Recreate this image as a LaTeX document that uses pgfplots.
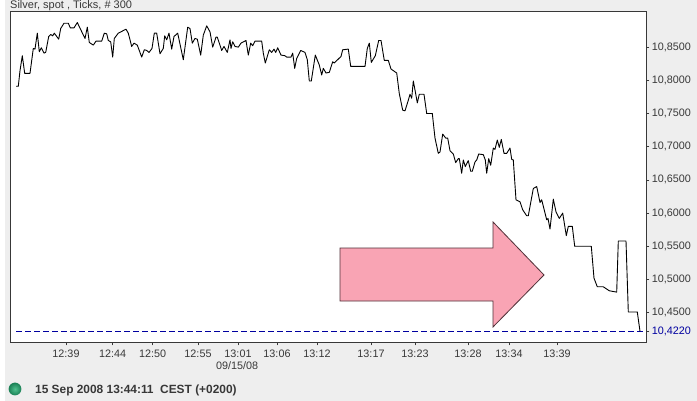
\documentclass[border=0pt]{standalone}
\usepackage{fontspec}
\setmainfont{Liberation Sans}
\usepackage{pgfplots}
\pgfplotsset{compat=1.18}

\definecolor{panel}{HTML}{EEEEEE}
\definecolor{frame}{HTML}{383838}
\definecolor{lastblue}{HTML}{0000A0}
\definecolor{arrowpink}{HTML}{F9A4B4}
\definecolor{arrowedge}{HTML}{503038}
\definecolor{ledin}{HTML}{4FC08E}
\definecolor{ledout}{HTML}{1A8055}

% x is the horizontal position on the time scale, y the price
\begin{document}
\begin{tikzpicture}[x=1pt,y=1pt]
  \fill[panel] (-10.3,-58.7) rectangle (686.7,342.3);
  \fill[white] (-10.3,-58.7) rectangle (-5,342.3);
  \path[use as bounding box] (-10.3,-58.7) rectangle (686.7,342.3);
  \begin{axis}[
    at={(0,0)}, anchor=south west,
    scale only axis,
    width=636pt, height=331.3pt,
    xmin=10.3, xmax=646.3,
    ymin=10.4054, ymax=10.9044,
    axis background/.style={fill=white},
    axis line style={frame, line width=0.9pt},
    tick style={frame, line width=0.6pt},
    tick align=outside,
    major tick length=3pt,
    xtick pos=bottom,
    ytick pos=right,
    yticklabel pos=right,
    xtick={66,112.7,152.7,198,238,277,317,371,415,468,509,557},
    xticklabels={12:39,12:44,12:50,12:55,13:01,13:06,13:12,13:17,13:23,13:28,13:34,13:39},
    ytick={10.45,10.5,10.55,10.6,10.65,10.7,10.75,10.8,10.85},
    extra y ticks={10.422},
    extra y tick style={yticklabel style={text=lastblue}},
    /pgf/number format/assume math mode=true,
    /pgf/number format/fixed,
    /pgf/number format/fixed zerofill,
    /pgf/number format/precision=4,
    /pgf/number format/use comma,
    /pgf/number format/1000 sep={},
    tick label style={font=\fontsize{10.8}{12}\selectfont, text=frame},
    xticklabel style={yshift=-1pt},
    yticklabel style={xshift=-1pt},
    clip=false,
  ]
  % arrow
  \addplot[draw=arrowedge, fill=arrowpink, line width=0.8pt] coordinates {
    (340,10.5474) (493,10.5474) (493,10.5866) (544,10.5068) (493,10.4285) (493,10.4676) (340,10.4676)
  } -- cycle;
  % last price
  \addplot[lastblue, line width=0.9pt, dash pattern=on 6pt off 3pt] coordinates {(16,10.422) (644,10.422)};
  % price
  \addplot[black, line width=0.9pt, line join=round] coordinates {
    (16.0,10.791) (18.3,10.791) (20,10.8145) (22.3,10.837) (24.7,10.8105) (30,10.8105) (33.3,10.848) (35,10.847)
    (37.3,10.871) (39.3,10.843) (41.3,10.849) (44,10.841) (45.7,10.842) (48.7,10.866) (50.7,10.869) (52.7,10.867)
    (54.3,10.871) (58.7,10.862) (60.7,10.878) (64,10.886) (68.3,10.886) (70.3,10.879) (74,10.879) (77.3,10.887)
    (85,10.863) (87.3,10.880) (89.3,10.857) (93.3,10.853) (96,10.859) (101.7,10.859) (104.3,10.871) (106.7,10.870)
    (108.3,10.860) (110.7,10.858) (112.7,10.835) (114.3,10.863) (118.3,10.871) (126,10.877) (128.3,10.871)
    (131.7,10.851) (134,10.856) (137.3,10.853) (141.7,10.835) (144.3,10.846) (146.7,10.845) (149,10.842) (152,10.848)
    (154.3,10.871) (156.7,10.871) (160,10.840) (163.3,10.848) (164.7,10.867) (166.7,10.861) (169,10.871) (171.7,10.847)
    (174,10.866) (177.7,10.871) (183.3,10.831) (187.7,10.880) (190,10.878) (192.3,10.856) (195,10.863) (197.3,10.862)
    (200.7,10.838) (203.3,10.868) (206.7,10.882) (210,10.873) (212.7,10.850) (216,10.865) (217.3,10.865) (221.7,10.845)
    (224,10.851) (227.3,10.842) (230,10.861) (231,10.848) (232.7,10.858) (235,10.851) (238.3,10.850) (241,10.856)
    (246,10.860) (248.3,10.838) (250.7,10.856) (252.7,10.852) (255,10.859) (261.7,10.859) (263.3,10.841) (265.3,10.826)
    (269.3,10.846) (271.7,10.842) (274,10.847) (275.7,10.842) (277.7,10.849) (281,10.838) (285,10.837) (286.7,10.835)
    (291,10.835) (292.7,10.841) (294.7,10.818) (296.7,10.833) (300.7,10.845) (305,10.842) (307.3,10.831) (309.3,10.799)
    (311.3,10.799) (315.3,10.838) (319.3,10.823) (321.7,10.808) (323.3,10.818) (326,10.811) (329.3,10.812) (332.7,10.828)
    (334.3,10.826) (338.3,10.832) (341,10.836) (342.7,10.846) (348.3,10.847) (350.7,10.821) (365,10.821) (367.3,10.848)
    (369.3,10.856) (371.3,10.827) (375.3,10.837) (378.7,10.860) (381,10.860) (384.3,10.830) (388.3,10.830) (391,10.817)
    (396.7,10.811) (399.3,10.780) (402.7,10.755) (405,10.754) (408.3,10.770) (410,10.779) (411.7,10.773) (413.3,10.799)
    (415.3,10.783) (417.3,10.766) (419.3,10.779) (424,10.779) (426.7,10.750) (432.3,10.750) (435,10.713) (438.3,10.690)
    (440,10.692) (442.7,10.719) (445.7,10.713) (447.7,10.713) (450,10.694) (453.3,10.689) (455.7,10.676) (458.3,10.682)
    (459.3,10.682) (461.7,10.660) (463.3,10.680) (465.3,10.670) (468.3,10.679) (470.7,10.663) (472.3,10.663) (475,10.677)
    (476.7,10.680) (478.7,10.689) (483.3,10.688) (485.3,10.680) (486.7,10.660) (488.7,10.682) (490.7,10.672) (493.3,10.698)
    (495,10.696) (497.3,10.710) (499.3,10.699) (501.3,10.711) (504,10.690) (506.7,10.690) (510,10.698) (511.7,10.681)
    (513.3,10.680) (516,10.620) (520,10.617) (522.7,10.605) (526.7,10.596) (528.3,10.596) (533.3,10.637) (536.7,10.640)
    (540,10.616) (541.7,10.620) (546.7,10.590) (548,10.592) (550,10.576) (553.3,10.621) (556,10.602) (559.3,10.592)
    (562.7,10.600) (566.3,10.566) (568.3,10.580) (572.3,10.580) (574.7,10.550) (591.3,10.550) (594,10.502) (597.3,10.489)
    (603.3,10.489) (609.3,10.483) (616.7,10.481) (618.3,10.558) (626,10.558) (628.3,10.451) (637.3,10.451) (640,10.422)
  };
  \end{axis}
  \node[anchor=base west, inner sep=0pt, text=frame, font=\fontsize{11}{12}\selectfont] at (-0.3,334) {Silver, spot , Ticks, \# 300};
  \node[inner sep=0pt, text=frame, font=\fontsize{10.8}{12}\selectfont] at (226.9,-23.4) {09/15/08};
  \shade[inner color=ledin, outer color=ledout] (4.7,-46.7) circle (6.4pt);
  \node[anchor=base west, inner sep=0pt, text=frame, font=\fontsize{11.9}{12}\selectfont\bfseries] at (24.7,-50.9) {15 Sep 2008 13:44:11\ \ CEST (+0200)};
\end{tikzpicture}
\end{document}
